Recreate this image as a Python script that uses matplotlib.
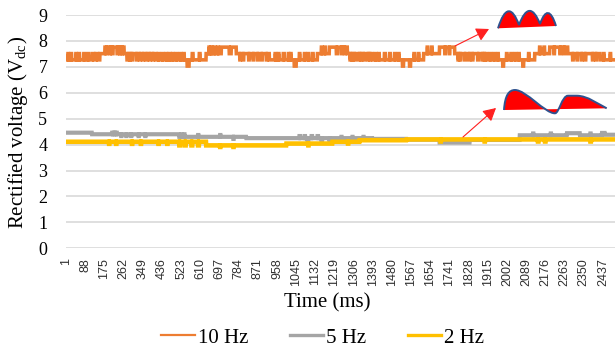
import numpy as np
import matplotlib
matplotlib.use("Agg")
from matplotlib import pyplot as plt
from matplotlib.lines import Line2D
from matplotlib.path import Path
from matplotlib.patches import PathPatch

plt.rcParams['font.family'] = ['Liberation Serif', 'DejaVu Serif']
plt.rcParams['mathtext.fontset'] = 'custom'
plt.rcParams['mathtext.rm'] = 'Liberation Serif'

# samples (ms) and tick labels
n_samples = 2492
tick_start = 1
tick_step = 87

# step runs: start time of each run, level (V)
orange_t = [1, 119, 128, 137, 146, 155, 178, 183, 187, 210, 215, 233, 237, 265, 278, 283,
            365, 369, 410, 437, 442, 469, 474, 501, 506, 551, 560, 574, 578, 606, 610,
            637, 674, 678, 706, 742, 751, 774, 888, 892, 910, 915, 924, 987, 992,
            1037, 1046, 1083, 1087, 1142, 1196, 1228, 1233, 1278, 1310, 1315, 1351, 1356,
            1392, 1446, 1451, 1492, 1496, 1528, 1533, 1560, 1565, 1624, 1696, 1765,
            1810, 1815, 1869, 1874, 1910, 1924, 1928, 1942, 1946, 1983, 1987, 2037, 2042,
            2074, 2078, 2128, 2196, 2242, 2246, 2278, 2356, 2360, 2424]
orange_v = [7.27, 7.51, 7.27, 7.51, 7.27, 7.51, 7.76, 7.51, 7.76, 7.51, 7.76, 7.51, 7.76, 7.51, 7.27, 7.51,
            7.27, 7.51, 7.27, 7.51, 7.27, 7.51, 7.27, 7.51, 7.27, 7.03, 7.27, 7.51, 7.27, 7.51, 7.27,
            7.51, 7.76, 7.51, 7.76, 7.51, 7.76, 7.51, 7.27, 7.51, 7.27, 7.51, 7.27, 7.51, 7.27,
            7.03, 7.27, 7.51, 7.27, 7.51, 7.76, 7.51, 7.76, 7.51, 7.27, 7.51, 7.27, 7.51,
            7.27, 7.51, 7.27, 7.51, 7.27, 7.03, 7.27, 7.03, 7.27, 7.51, 7.76, 7.51,
            7.27, 7.51, 7.27, 7.51, 7.27, 7.51, 7.27, 7.51, 7.27, 7.03, 7.27, 7.51, 7.27,
            7.03, 7.27, 7.51, 7.76, 7.51, 7.76, 7.51, 7.27, 7.51, 7.27]
# short glitches (a few samples each) on top of the runs
orange_spike_t = [10, 24, 46, 60, 82, 100, 200, 245, 255, 290, 300, 320, 335, 350, 380, 395,
                  420, 455, 485, 520, 535, 650, 660, 690, 790, 805, 830, 850, 870,
                  950, 965, 1010, 1020, 1060, 1100, 1120, 1160, 1175, 1250, 1265,
                  1290, 1300, 1330, 1340, 1370, 1380, 1405, 1420, 1470, 1510, 1580, 1600,
                  1640, 1660, 1720, 1740, 1780, 1790, 1830, 1845, 1890, 1900,
                  1960, 2000, 2020, 2055, 2100, 2150, 2170, 2215, 2260,
                  2300, 2320, 2340, 2390, 2405, 2440, 2470]
orange_spike_v = [7.51, 7.51, 7.51, 7.51, 7.51, 7.51, 7.51, 7.51, 7.51, 7.27, 7.27, 7.27, 7.27, 7.27, 7.27, 7.27,
                  7.51, 7.51, 7.51, 7.51, 7.51, 7.76, 7.76, 7.76, 7.27, 7.27, 7.27, 7.27, 7.27,
                  7.51, 7.51, 7.51, 7.51, 7.51, 7.51, 7.51, 7.76, 7.76, 7.51, 7.51,
                  7.27, 7.27, 7.27, 7.27, 7.27, 7.27, 7.51, 7.51, 7.51, 7.51, 7.51, 7.51,
                  7.76, 7.76, 7.51, 7.51, 7.27, 7.27, 7.27, 7.27, 7.27, 7.27,
                  7.51, 7.51, 7.51, 7.51, 7.51, 7.76, 7.76, 7.51, 7.51,
                  7.27, 7.27, 7.27, 7.27, 7.27, 7.51, 7.51]

gray_t = [1, 119, 210, 214, 220, 224, 229, 233, 251, 254, 274, 277, 296, 299,
          515, 524, 527, 537, 540, 819, 1060, 1064, 1083, 1087, 1097, 1101, 1115, 1119,
          1142, 1146, 1160, 1164, 1196, 1200, 1392, 1546, 1696, 1833, 2060, 2274, 2333,
          2433, 2446]
gray_v = [4.46, 4.40, 4.46, 4.40, 4.46, 4.40, 4.46, 4.40, 4.33, 4.40, 4.33, 4.40, 4.33, 4.40,
          4.30, 4.40, 4.30, 4.40, 4.30, 4.25, 4.33, 4.25, 4.33, 4.25, 4.15, 4.25, 4.33, 4.25,
          4.33, 4.25, 4.15, 4.25, 4.15, 4.25, 4.22, 4.19, 4.08, 4.18, 4.36, 4.44, 4.36,
          4.45, 4.38]
gray_spike_t = [330, 360, 600, 700, 760, 1250, 1300, 1350, 2120, 2200, 2380]
gray_spike_v = [4.33, 4.33, 4.37, 4.37, 4.22, 4.30, 4.30, 4.30, 4.43, 4.43, 4.43]

yellow_t = [1, 196, 199, 228, 231, 515, 520, 540, 545, 570, 575, 600, 605, 637,
            1001, 1210, 1333, 1546, 2142, 2146, 2174, 2178, 2380, 2384]
yellow_v = [4.11, 4.03, 4.11, 4.03, 4.11, 3.97, 4.11, 3.97, 4.11, 3.97, 4.11, 3.97, 4.11, 3.97,
            4.04, 4.11, 4.17, 4.20, 4.12, 4.20, 4.12, 4.20, 4.12, 4.20]
yellow_spike_t = [300, 340, 420, 460, 700, 760, 1100, 1280, 1700, 1900]
yellow_spike_v = [4.03, 4.03, 4.03, 4.03, 3.91, 3.91, 3.97, 4.04, 4.12, 4.12]

series_names = ["10 Hz", "5 Hz", "2 Hz"]
series_colors = ["#ED7D31", "#A5A5A5", "#FFC000"]
series_widths = [2.6, 3.0, 3.3]


def expand(starts, values, spike_t, spike_v):
    t = np.arange(1, n_samples + 1)
    idx = np.searchsorted(np.array(starts), t, side='right') - 1
    y = np.array(values)[idx]
    for st, sv in zip(spike_t, spike_v):
        y[st - 1:st + 2] = sv
    return t, y


fig = plt.figure(figsize=(6.15, 3.49), dpi=100)
ax = fig.add_axes([66 / 615, 1 - 248.3 / 349, 549 / 615, (248.3 - 15) / 349])

data = [(orange_t, orange_v, orange_spike_t, orange_spike_v),
        (gray_t, gray_v, gray_spike_t, gray_spike_v),
        (yellow_t, yellow_v, yellow_spike_t, yellow_spike_v)]
for d, col, lw in zip(data, series_colors, series_widths):
    t, y = expand(*d)
    ax.plot(t, y, color=col, linewidth=lw, solid_joinstyle='miter')

ax.set_xlim(1, n_samples)
ax.set_ylim(0, 9)
ax.set_yticks(range(0, 10))
xt = np.arange(tick_start, n_samples, tick_step)
ax.set_xticks(xt)
ax.set_xticklabels([str(v) for v in xt], rotation=90, fontsize=9, family='Liberation Sans',
                   color='#303030')
ax.tick_params(axis='x', length=0, pad=7)
ax.tick_params(axis='y', length=0, pad=13.5, labelsize=13)
ax.yaxis.grid(True, color='#D9D9D9', linewidth=1.2)
ax.set_axisbelow(True)
for s in ax.spines.values():
    s.set_visible(False)

fig.text(327 / 615, 1 - 303 / 349, "Time (ms)", ha='center', va='center', fontsize=15)
fig.text(18 / 615, 1 - 132 / 349, r"Rectified voltage (V$_{\rm dc}$)", ha='center', va='center',
         rotation=90, fontsize=15)

handles = [Line2D([], [], color=c, linewidth=w) for c, w in zip(series_colors, [1.6, 2.4, 2.4])]
fig.legend(handles, series_names, loc='center', bbox_to_anchor=(0.525, 0.032), ncol=3,
           frameon=False, fontsize=15, handlelength=1.6, handletextpad=0.15, columnspacing=2.0)

# overlay in pixel coords for the waveform sketches and arrows
ov = fig.add_axes([0, 0, 1, 1], facecolor='none')
ov.set_xlim(0, 615)
ov.set_ylim(349, 0)
ov.axis('off')


def hump(p0, peak_y, p1, frac=0.33):
    w = p1[0] - p0[0]
    base = max(p0[1], p1[1])
    cy = base - (base - peak_y) * 4 / 3
    return [(p0[0] + frac * w, cy), (p1[0] - frac * w, cy), p1]


# full-wave rectified (10 Hz) sketch
up_pts = [(498, 28.3)]
for a, py, b in [((498, 28.3), 11.7, (519, 25)), ((519, 25), 11, (540, 24)), ((540, 24), 13.3, (556, 26))]:
    up_pts += hump(a, py, b)
codes = [Path.MOVETO] + [Path.CURVE4] * (len(up_pts) - 1)
ov.add_patch(PathPatch(Path(up_pts + [up_pts[0]], codes + [Path.LINETO]),
                       facecolor='red', edgecolor='none'))
ov.add_patch(PathPatch(Path(up_pts, codes), facecolor='none', edgecolor='#2F528F', linewidth=1.4))

# low frequency sketch
lo_pts = [(504, 110), (505, 95), (509, 90), (515, 90),
          (526, 90), (545, 113.5), (555, 113.3),
          (559, 113.3), (562, 95.7), (568, 95.7),
          (571, 95.7), (574, 95.7), (577, 95.7),
          (588, 96), (598, 104), (606.7, 108.3)]
codes = [Path.MOVETO] + [Path.CURVE4] * (len(lo_pts) - 1)
ov.add_patch(PathPatch(Path(lo_pts + [lo_pts[0]], codes + [Path.LINETO]),
                       facecolor='red', edgecolor='none'))
ov.add_patch(PathPatch(Path(lo_pts, codes), facecolor='none', edgecolor='#2F528F', linewidth=1.4))

arrow = dict(arrowstyle='-|>,head_length=0.55,head_width=0.3', color='#FF2020', lw=0.8,
             mutation_scale=14, shrinkA=0, shrinkB=0)
ov.annotate("", xy=(489, 29), xytext=(455, 46), arrowprops=arrow)
ov.annotate("", xy=(496, 108), xytext=(463, 137), arrowprops=arrow)

fig.savefig("out.png", dpi=100)
